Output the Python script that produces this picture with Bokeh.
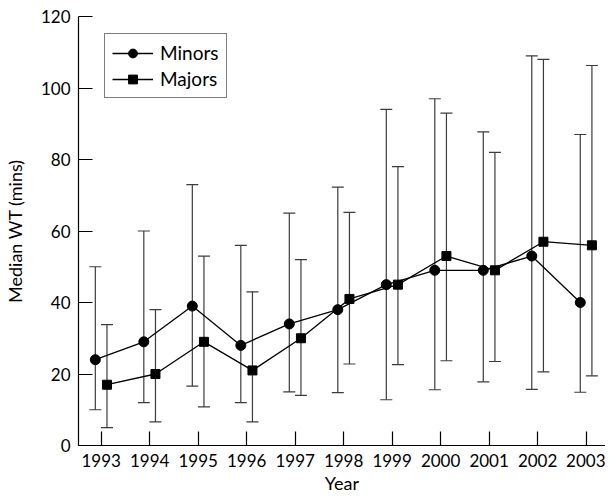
from bokeh.plotting import figure
from bokeh.models import ColumnDataSource, Range1d, FixedTicker, Legend, LegendItem
from bokeh.transform import dodge
from bokeh.embed import file_html
from bokeh.resources import INLINE

years = [1993, 1994, 1995, 1996, 1997, 1998, 1999, 2000, 2001, 2002, 2003]
minors_median = [24, 29, 39, 28, 34, 38, 45, 49, 49, 53, 40]
minors_upper = [50, 60, 73, 56, 65, 72.3, 94, 97, 87.7, 109, 87]
minors_lower = [10, 12, 16.6, 12, 15, 14.8, 12.8, 15.6, 17.8, 15.7, 14.9]
majors_median = [17, 20, 29, 21, 30, 41, 45, 53, 49, 57, 56]
majors_upper = [33.8, 38, 53, 43, 52, 65.2, 78, 93, 82, 108, 106.3]
majors_lower = [5, 6.6, 10.8, 6.6, 14, 22.8, 22.6, 23.7, 23.5, 20.6, 19.5]
y_ticks = [0, 20, 40, 60, 80, 100, 120]

FONT = "Lato"

src = ColumnDataSource(dict(
    year=years,
    mi=minors_median, mi_u=minors_upper, mi_l=minors_lower,
    ma=majors_median, ma_u=majors_upper, ma_l=majors_lower,
))

p = figure(width=605, height=497, output_backend="svg", toolbar_location=None,
           x_range=Range1d(1992.533, 2003.40), y_range=Range1d(0, 120),
           min_border_left=70, min_border_right=0, min_border_top=16, min_border_bottom=52)
p.outline_line_color = None
p.grid.grid_line_color = None
p.background_fill_color = "white"
p.border_fill_color = "white"

err_col = "#3c3c3c"
xm = dodge("year", -0.12)
xj = dodge("year", 0.12)
for x, u, l in ((xm, "mi_u", "mi_l"), (xj, "ma_u", "ma_l")):
    p.segment(x0=x, x1=x, y0=l, y1=u, source=src, line_color=err_col, line_width=1.2)
    p.scatter(x=x, y=u, marker="dash", size=12, source=src, line_color=err_col, line_width=1.2)
    p.scatter(x=x, y=l, marker="dash", size=12, source=src, line_color=err_col, line_width=1.2)

l1 = p.line(x=xm, y="mi", source=src, line_color="black", line_width=1.3)
s1 = p.scatter(x=xm, y="mi", source=src, marker="circle", size=10, fill_color="black", line_color="black")
l2 = p.line(x=xj, y="ma", source=src, line_color="black", line_width=1.3)
s2 = p.scatter(x=xj, y="ma", source=src, marker="square", size=9, fill_color="black", line_color="black")

legend = Legend(items=[LegendItem(label="Minors", renderers=[l1, s1]),
                       LegendItem(label="Majors", renderers=[l2, s2])],
                location=(26, 347))
legend.label_text_font = FONT
legend.label_text_font_size = "19px"
legend.label_text_color = "black"
legend.border_line_color = "black"
legend.border_line_width = 1
legend.background_fill_alpha = 1
legend.glyph_width = 41
legend.glyph_height = 22
legend.label_height = 22
legend.spacing = 3
legend.padding = 7
legend.margin = 0
legend.label_standoff = 7
p.add_layout(legend, "center")

p.xaxis.ticker = FixedTicker(ticks=years)
p.yaxis.ticker = FixedTicker(ticks=y_ticks)
for ax in (p.xaxis[0], p.yaxis[0]):
    ax.axis_line_color = "black"
    ax.axis_line_width = 1.2
    ax.major_tick_line_color = "black"
    ax.major_tick_line_width = 1.2
    ax.major_tick_in = 14
    ax.major_tick_out = 0
    ax.minor_tick_line_color = None
    ax.major_label_text_font = FONT
    ax.major_label_text_font_size = "17px"
    ax.major_label_text_color = "black"
    ax.axis_label_text_font = FONT
    ax.axis_label_text_font_size = "18px"
    ax.axis_label_text_font_style = "normal"
    ax.axis_label_text_color = "black"
    ax.major_label_standoff = 8

p.xaxis.axis_label = "Year"
p.yaxis.axis_label = "Median WT (mins)"
p.xaxis.axis_label_standoff = 2
p.yaxis.axis_label_standoff = 12

open("out.html", "w").write(file_html(p, INLINE))
